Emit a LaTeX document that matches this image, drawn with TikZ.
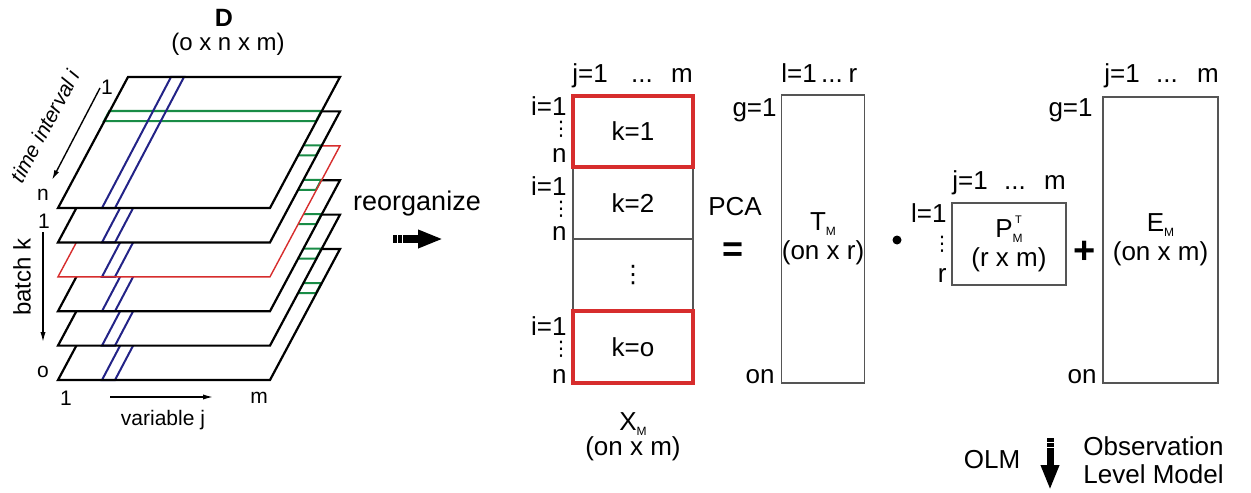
\documentclass[tikz,border=0pt]{standalone}
\usepackage{fontspec}
\setmainfont{Liberation Sans}
\newfontfamily\dvfont{DejaVu Sans}
\usetikzlibrary{arrows.meta}
\definecolor{bred}{RGB}{215,45,45}
\definecolor{bblue}{RGB}{35,35,135}
\definecolor{bgreen}{RGB}{25,140,70}
\definecolor{bgray}{RGB}{85,85,85}
\newcommand{\lowM}{\raisebox{-2.5pt}{\fontsize{6}{6}\selectfont M}}
\newcommand{\topT}{\rlap{\hspace{1.2pt}\raisebox{7pt}{\fontsize{5.5}{6}\selectfont T}}}
\newcommand{\vdts}{{\dvfont ⋮}}
\tikzset{
  txt/.style   ={inner sep=0pt, font=\fontsize{13}{14}\selectfont},
  stxt/.style  ={inner sep=0pt, font=\fontsize{10.5}{12}\selectfont},
  vd/.style    ={inner sep=0pt, font=\fontsize{10}{10}\selectfont},
  blk/.style   ={rectangle, draw=bgray, line width=0.6pt, inner sep=0pt, align=center,
                 font=\fontsize{13}{14.5}\selectfont},
  redblk/.style={blk, draw=bred, line width=1.6pt},
  slab/.style  ={line width=1.1pt, line join=miter},
  ar/.style    ={-{Latex[length=5pt,width=2.6pt]}, line width=0.7pt},
  fat/.style   ={line width=4pt, -{Triangle[length=12.5pt,width=8.5pt]}},
  fattail/.style={line width=4pt, dash pattern=on 2pt off 0.6pt}
}
\begin{document}
\begin{tikzpicture}[x=0.5pt, y=-0.5pt]
\path[use as bounding box, fill=white] (0,0) rectangle (1251,492);

% stacked batches, drawn from the bottom one up
\foreach \k/\col/\lw in {5/black/1.1pt,4/black/1.1pt,3/black/1.1pt,2/bred/0.7pt,1/black/1.1pt,0/black/1.1pt}{
  \begin{scope}[shift={(0,{34.4*\k})}]
    \fill[white] (58,208) -- (270,208) -- (340,77) -- (128,77) -- cycle;
    \draw[bgreen, line width=1pt] (104,121) -- (316,121) -- (321.3,111) -- (109.3,111) -- cycle;
    \draw[bblue, line width=1pt] (102,208) -- (115,208) -- (184,77) -- (171,77) -- cycle;
    \draw[slab, draw=\col, line width=\lw] (58,208) -- (270,208) -- (340,77) -- (128,77) -- cycle;
  \end{scope}
}

\node[inner sep=0pt, font=\fontsize{12.5}{14}\selectfont\bfseries, anchor=base] (dname) at (224,27) {D};
\node[inner sep=0pt, font=\fontsize{12}{14}\selectfont, anchor=base] (ddim) at (228,51) {(o x n x m)};
\node[stxt, anchor=base] (ione) at (107,95) {1};
\node[stxt, anchor=base] (iend) at (43,200) {n};
\node[stxt, anchor=base] (kone) at (44,228) {1};
\node[stxt, anchor=base] (kend) at (43,377) {o};
\node[stxt, anchor=base] (jone) at (66,405) {1};
\node[stxt, anchor=base] (jend) at (259,403) {m};
\node[stxt, anchor=base] (jvar) at (163,425) {variable j};
\node[inner sep=0pt, font=\fontsize{10.5}{12}\selectfont\itshape, rotate=62] (itime) at (45,126) {time interval i};
\node[inner sep=0pt, font=\fontsize{12}{14}\selectfont, rotate=90] (kbatch) at (22,277) {batch k};

\coordinate (ti0) at (100,88);
\coordinate (ti1) at (52,180);
\coordinate (bk0) at (43,232);
\coordinate (bk1) at (43,342);
\coordinate (vj0) at (110,397);
\coordinate (vj1) at (213,397);
\draw[ar] (ti0) -- (ti1);
\draw[ar] (bk0) -- (bk1);
\draw[ar] (vj0) -- (vj1);

% reorganize
\node[inner sep=0pt, font=\fontsize{13.5}{15}\selectfont, anchor=base] (reorg) at (417,210) {reorganize};
\coordinate (ra0) at (393,239);
\coordinate (ra1) at (407,239);
\coordinate (ra2) at (443,239);
\draw[fattail] (ra0) -- (ra1);
\draw[fat] (ra1) -- (ra2);

% X_M
\node[blk, minimum width=60pt, minimum height=36pt] (k2) at (633,203) {k=2};
\node[blk, minimum width=60pt, minimum height=36pt, font=\fontsize{12}{12}\selectfont] (kdots) at (633,275) {\vdts};
\node[redblk, minimum width=60pt, minimum height=35.5pt] (k1) at (633,131.5) {k=1};
\node[redblk, minimum width=60pt, minimum height=36pt] (ko) at (633,347) {k=o};

\node[txt, anchor=base] (xj1) at (590,83) {j=1};
\node[txt, anchor=base] (xjd) at (642,83) {...};
\node[txt, anchor=base] (xjm) at (682,83) {m};

\node[txt, anchor=base east] (xi1a) at (567,115) {i=1};
\node[vd] (xva) at (561,129) {\vdts};
\node[txt, anchor=base east] (xna) at (567,162) {n};
\node[txt, anchor=base east] (xi1b) at (567,195) {i=1};
\node[vd] (xvb) at (561,209) {\vdts};
\node[txt, anchor=base east] (xnb) at (567,240) {n};
\node[txt, anchor=base east] (xi1c) at (567,335) {i=1};
\node[vd] (xvc) at (561,349) {\vdts};
\node[txt, anchor=base east] (xnc) at (567,383) {n};

\node[txt, anchor=base] (xmname) at (633,430) {X\lowM};
\node[txt, anchor=base] (xmdim) at (633,455) {(on x m)};

% PCA = T_M . P_M^T + E_M
\node[txt, anchor=base] (pca) at (735,215) {PCA};
\node[inner sep=0pt, font=\fontsize{18}{18}\selectfont\bfseries] (eq) at (733,252) {=};

\node[blk, minimum width=40pt, minimum height=144pt] (tm) at (823,239) {T\lowM\\(on x r)};
\node[txt, anchor=base] (tl1) at (799,83) {l=1};
\node[txt, anchor=base] (tld) at (832,83) {...};
\node[txt, anchor=base] (tlr) at (853,83) {r};
\node[txt, anchor=base east] (tg1) at (777,117) {g=1};
\node[txt, anchor=base east] (ton) at (775,383) {on};

\node[circle, fill=black, inner sep=0pt, minimum size=4.5pt] (mul) at (897,240) {};

\node[blk, minimum width=57pt, minimum height=41pt] (pm) at (1009,244) {P\topT\lowM\\(r x m)};
\node[txt, anchor=base] (pj1) at (970,189) {j=1};
\node[txt, anchor=base] (pjd) at (1015,189) {...};
\node[txt, anchor=base] (pjm) at (1055,189) {m};
\node[txt, anchor=base east] (pl1) at (947,222) {l=1};
\node[vd] (pv) at (942,244) {\vdts};
\node[txt, anchor=base east] (plr) at (947,282) {r};

\node[inner sep=0pt, font=\fontsize{19}{19}\selectfont\bfseries] (plus) at (1085,252) {+};

\node[blk, minimum width=57.5pt, minimum height=143pt] (em) at (1160.5,240) {E\lowM\\(on x m)};
\node[txt, anchor=base] (ej1) at (1122,83) {j=1};
\node[txt, anchor=base] (ejd) at (1167,83) {...};
\node[txt, anchor=base] (ejm) at (1208,83) {m};
\node[txt, anchor=base east] (eg1) at (1093,117) {g=1};
\node[txt, anchor=base east] (eon) at (1097,383) {on};

% OLM
\node[txt, anchor=base] (olm) at (992,468) {OLM};
\coordinate (oa0) at (1050,438);
\coordinate (oa1) at (1050,451);
\coordinate (oa2) at (1050,490);
\draw[fattail, line width=3.5pt] (oa0) -- (oa1);
\draw[fat, line width=3.5pt] (oa1) -- (oa2);
\node[txt, anchor=base west] (obs) at (1083,455) {Observation};
\node[txt, anchor=base west] (lvl) at (1083,483) {Level Model};
\end{tikzpicture}
\end{document}
